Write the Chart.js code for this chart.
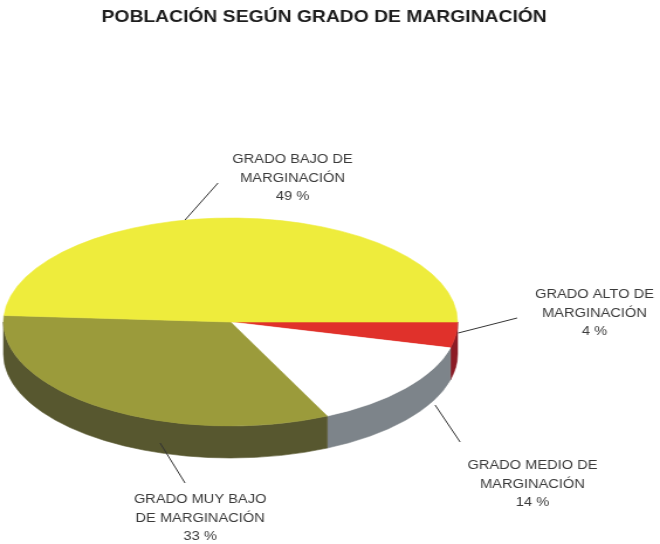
<!DOCTYPE html>
<html>
<head>
<meta charset="utf-8">
<script src="https://cdn.jsdelivr.net/npm/chart.js@4/dist/chart.umd.min.js"></script>
<style>
  html, body { margin: 0; padding: 0; background: #ffffff; overflow: hidden; }
  #wrap { width: 564px; height: 544px; transform: scaleX(1.1702); transform-origin: 0 0; }
  canvas { display: block; }
</style>
</head>
<body>
<div id="wrap"><canvas id="chart" width="564" height="544"></canvas></div>
<script>
// ---- data ----
const chartTitle = 'POBLACIÓN SEGÚN GRADO DE MARGINACIÓN';
const categories = [
  'GRADO ALTO DE MARGINACIÓN',
  'GRADO MEDIO DE MARGINACIÓN',
  'GRADO MUY BAJO DE MARGINACIÓN',
  'GRADO BAJO DE MARGINACIÓN'
];
const labelLines = [
  ['GRADO ALTO DE', 'MARGINACIÓN'],
  ['GRADO MEDIO DE', 'MARGINACIÓN'],
  ['GRADO MUY BAJO', 'DE MARGINACIÓN'],
  ['GRADO BAJO DE', 'MARGINACIÓN']
];
const percentages = [4, 14, 33, 49];

// ---- styles ----
const topColors  = ['#e0312b', '#ffffff', '#9b9b3b', '#eeec3c'];
const sideColors = ['#8c1b25', '#7d848a', '#57572f', '#a8a62a'];
const FONT = "'Liberation Sans', Arial, Helvetica, sans-serif";

// pie placement (canvas px, before the horizontal stretch)
const PIE = { cx: 197, cy: 322, rx: 194, ry: 104, depth: 32 };

// label layout: text centre x, first line y, leader line from -> to
const labelLayout = [
  { x: 508, y: 295, line: [[391.5, 333], [441.9, 318]] },
  { x: 455, y: 466, line: [[371.8, 405], [393.2, 442]] },
  { x: 171, y: 500, line: [[136.8, 443], [158.1, 483]] },
  { x: 250, y: 160, line: [[158.1, 220], [186.3, 183]] }
];

const pie3d = {
  id: 'pie3d',
  beforeDatasetsDraw(chart) {
    const ctx = chart.ctx;
    const meta = chart.getDatasetMeta(0);
    const { cx, cy, rx, ry, depth } = PIE;
    // side walls of the front half
    meta.data.forEach((arc, i) => {
      const p = arc.getProps(['startAngle', 'endAngle'], true);
      for (let k = -1; k <= 1; k++) {
        const lo = 2 * Math.PI * k, hi = lo + Math.PI;
        const s = Math.max(p.startAngle, lo), e = Math.min(p.endAngle, hi);
        if (e <= s) continue;
        ctx.beginPath();
        ctx.ellipse(cx, cy, rx, ry, 0, s, e);
        ctx.ellipse(cx, cy + depth, rx, ry, 0, e, s, true);
        ctx.closePath();
        ctx.fillStyle = sideColors[i];
        ctx.fill();
        ctx.strokeStyle = sideColors[i];
        ctx.lineWidth = 0.6;
        ctx.stroke();
      }
    });
    // squash the top face into an ellipse
    const a0 = meta.data[0];
    const R = a0.outerRadius;
    ctx.save();
    ctx.translate(cx, cy);
    ctx.scale(rx / R, ry / R);
    ctx.translate(-a0.x, -a0.y);
  },
  afterDatasetsDraw(chart) {
    chart.ctx.restore();
  },
  afterDraw(chart) {
    const ctx = chart.ctx;
    ctx.save();
    ctx.strokeStyle = '#333333';
    ctx.lineWidth = 1;
    ctx.fillStyle = '#3a3a3a';
    ctx.font = '12.5px ' + FONT;
    ctx.textAlign = 'center';
    ctx.textBaseline = 'middle';
    labelLayout.forEach((L, i) => {
      ctx.beginPath();
      ctx.moveTo(L.line[0][0], L.line[0][1]);
      ctx.lineTo(L.line[1][0], L.line[1][1]);
      ctx.stroke();
      const lines = labelLines[i].concat([percentages[i] + ' %']);
      lines.forEach((t, j) => ctx.fillText(t, L.x, L.y + j * 18.5));
    });
    ctx.restore();
  }
};

new Chart(document.getElementById('chart'), {
  type: 'pie',
  data: {
    labels: categories,
    datasets: [{
      data: percentages,
      backgroundColor: topColors,
      borderColor: topColors,
      borderWidth: 1,
      clip: false
    }]
  },
  options: {
    responsive: false,
    animation: false,
    events: [],
    rotation: 90,
    layout: { padding: { left: 0, right: 10, top: 0, bottom: 0 } },
    plugins: {
      legend: { display: false },
      tooltip: { enabled: false },
      title: {
        display: true,
        text: chartTitle,
        color: '#1e1e1e',
        font: { family: FONT, size: 16.5, weight: 'bold' },
        padding: { top: 8, bottom: 10 }
      }
    }
  },
  plugins: [pie3d]
});
</script>
</body>
</html>
